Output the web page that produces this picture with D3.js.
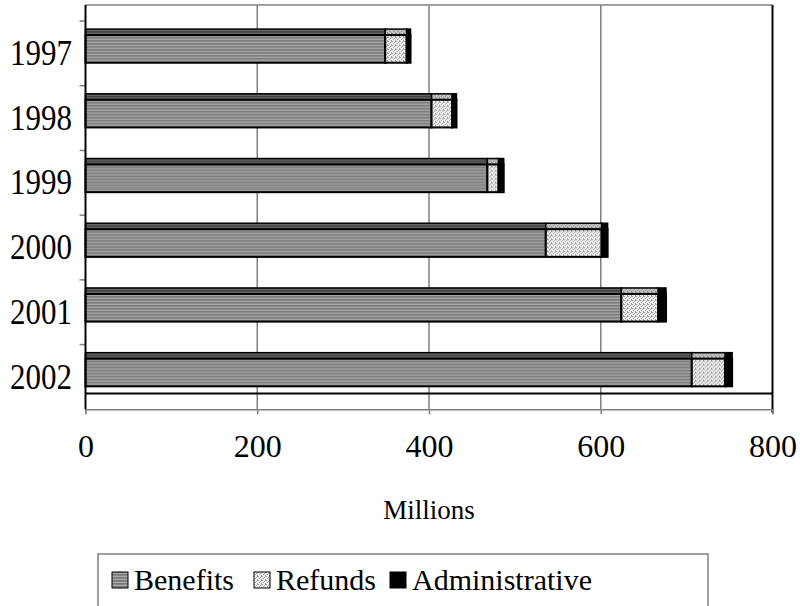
<!DOCTYPE html>
<html>
<head>
<meta charset="utf-8">
<script src="https://cdn.jsdelivr.net/npm/d3@7"></script>
<style>
  html, body { margin: 0; padding: 0; background: #fff; }
  svg { display: block; }
  text { font-family: "Liberation Serif", "Times New Roman", serif; fill: #000; }
</style>
</head>
<body>
<svg id="chart" width="800" height="606"></svg>
<script>
// Spending by year, millions
const years = ["1997", "1998", "1999", "2000", "2001", "2002"];
const benefits = [349, 403, 468, 536, 624, 706];
const refunds = [25, 24, 13, 65, 43, 39];
const administrative = [4.5, 5, 6, 7, 9, 8];
const seriesNames = ["Benefits", "Refunds", "Administrative"];
const xTicks = [0, 200, 400, 600, 800];
const axisTitle = "Millions";

const svg = d3.select("#chart");

// Fill patterns: striped grey for benefits, stipple for refunds
const defs = svg.append("defs");
function stripes(id, colors) {
  const p = defs.append("pattern").attr("id", id)
    .attr("patternUnits", "userSpaceOnUse").attr("width", 4).attr("height", colors.length);
  colors.forEach((c, i) => p.append("rect").attr("x", 0).attr("y", i).attr("width", 4).attr("height", 1).attr("fill", c));
}
function stipple(id, bg, dot) {
  const p = defs.append("pattern").attr("id", id)
    .attr("patternUnits", "userSpaceOnUse").attr("width", 4).attr("height", 4);
  p.append("rect").attr("width", 4).attr("height", 4).attr("fill", bg);
  [[0, 0], [2, 1], [1, 2], [3, 3], [3, 0]].forEach(([px, py]) =>
    p.append("rect").attr("x", px).attr("y", py).attr("width", 1).attr("height", 1).attr("fill", dot));
}
stripes("benFront", ["#8a8a8a", "#a8a8a8", "#7a7a7a"]);
stripes("benTop", ["#4e4e4e", "#6e6e6e", "#404040"]);
stipple("refFront", "#f2f2f2", "#9a9a9a");
stipple("refTop", "#c4c4c4", "#8a8a8a");

const fronts = ["url(#benFront)", "url(#refFront)", "#000"];
const tops = ["url(#benTop)", "url(#refTop)", "#000"];

const plotLeft = 85.5, plotRight = 772.5, plotTop = 5, plotBottom = 409.3;
const x = d3.scaleLinear().domain([0, 800]).range([plotLeft, plotRight]);
const y = d3.scaleBand().domain(years).range([21, plotBottom]);
const bw = y.bandwidth();

// Gridlines
svg.append("g").selectAll("line").data(xTicks.slice(1, -1)).join("line")
  .attr("x1", d => x(d)).attr("x2", d => x(d))
  .attr("y1", plotTop).attr("y2", plotBottom)
  .attr("stroke", "#808080").attr("stroke-width", 1.5);

// Plot frame
svg.append("line").attr("x1", plotLeft).attr("x2", plotRight).attr("y1", plotTop).attr("y2", plotTop)
  .attr("stroke", "#808080").attr("stroke-width", 1.5);
svg.append("line").attr("x1", plotRight).attr("x2", plotRight).attr("y1", plotTop).attr("y2", 413)
  .attr("stroke", "#000").attr("stroke-width", 2);
svg.append("line").attr("x1", plotLeft).attr("x2", plotRight).attr("y1", 393.5).attr("y2", 393.5)
  .attr("stroke", "#000").attr("stroke-width", 2);

// X axis
const xAxis = d3.axisBottom(x).tickValues(xTicks).tickSize(5).tickPadding(20).tickFormat(d3.format("d"));
const gx = svg.append("g").attr("transform", `translate(0,${plotBottom})`).call(xAxis);
gx.select(".domain").attr("stroke", "#808080").attr("stroke-width", 1.5);
gx.selectAll(".tick line").attr("stroke", "#808080").attr("stroke-width", 1.5);
gx.selectAll(".tick text").attr("font-size", 32).attr("font-family", "Liberation Serif").attr("dy", "0.71em");

// Y axis: ticks at category boundaries, labels beside bars
const yAxisG = svg.append("g");
yAxisG.selectAll("line.tk").data(years).join("line").attr("class", "tk")
  .attr("x1", plotLeft - 6).attr("x2", plotLeft).attr("y1", d => y(d)).attr("y2", d => y(d))
  .attr("stroke", "#808080").attr("stroke-width", 1.5);
yAxisG.selectAll("text").data(years).join("text")
  .attr("transform", d => `translate(72,${y(d) + bw * 0.68}) scale(1,1.18)`)
  .attr("text-anchor", "end").attr("font-size", 31).text(d => d);

// Stacked bars with a top face and a front face
const rows = years.map((yr, i) => {
  const vals = [benefits[i], refunds[i], administrative[i]];
  let acc = 0;
  return { yr, segs: vals.map((v, k) => { const s = { k, x0: acc, x1: acc + v }; acc += v; return s; }) };
});
const barOffset = bw * 0.125, topFace = 6, barH = bw * 0.52;
const bars = svg.append("g").selectAll("g").data(rows).join("g")
  .attr("transform", d => `translate(0,${y(d.yr) + barOffset})`);
bars.selectAll("rect.top").data(d => d.segs).join("rect").attr("class", "top")
  .attr("x", s => x(s.x0)).attr("width", s => x(s.x1) - x(s.x0))
  .attr("y", 0).attr("height", topFace)
  .attr("fill", s => tops[s.k]).attr("stroke", "#000").attr("stroke-width", 1.5);
bars.selectAll("rect.front").data(d => d.segs).join("rect").attr("class", "front")
  .attr("x", s => x(s.x0)).attr("width", s => x(s.x1) - x(s.x0))
  .attr("y", topFace).attr("height", barH - topFace)
  .attr("fill", s => fronts[s.k]).attr("stroke", "#000").attr("stroke-width", 2);

// Left axis line drawn over bar edges
svg.append("line").attr("x1", plotLeft).attr("x2", plotLeft).attr("y1", plotTop).attr("y2", plotBottom)
  .attr("stroke", "#000").attr("stroke-width", 2);

// Axis title
svg.append("text").attr("x", 429).attr("y", 519).attr("text-anchor", "middle")
  .attr("font-size", 27).text(axisTitle);

// Legend
const legend = svg.append("g");
legend.append("rect").attr("x", 98).attr("y", 554).attr("width", 610).attr("height", 80)
  .attr("fill", "#fff").attr("stroke", "#808080").attr("stroke-width", 1.5);
const legX = [112, 254, 390];
const item = legend.selectAll("g.item").data(seriesNames).join("g").attr("class", "item")
  .attr("transform", (d, i) => `translate(${legX[i]},572)`);
item.append("rect").attr("width", 16).attr("height", 16)
  .attr("fill", (d, i) => fronts[i]).attr("stroke", "#000").attr("stroke-width", 1);
item.append("text").attr("x", 22).attr("y", 18).attr("font-size", 30).text(d => d);
</script>
</body>
</html>
